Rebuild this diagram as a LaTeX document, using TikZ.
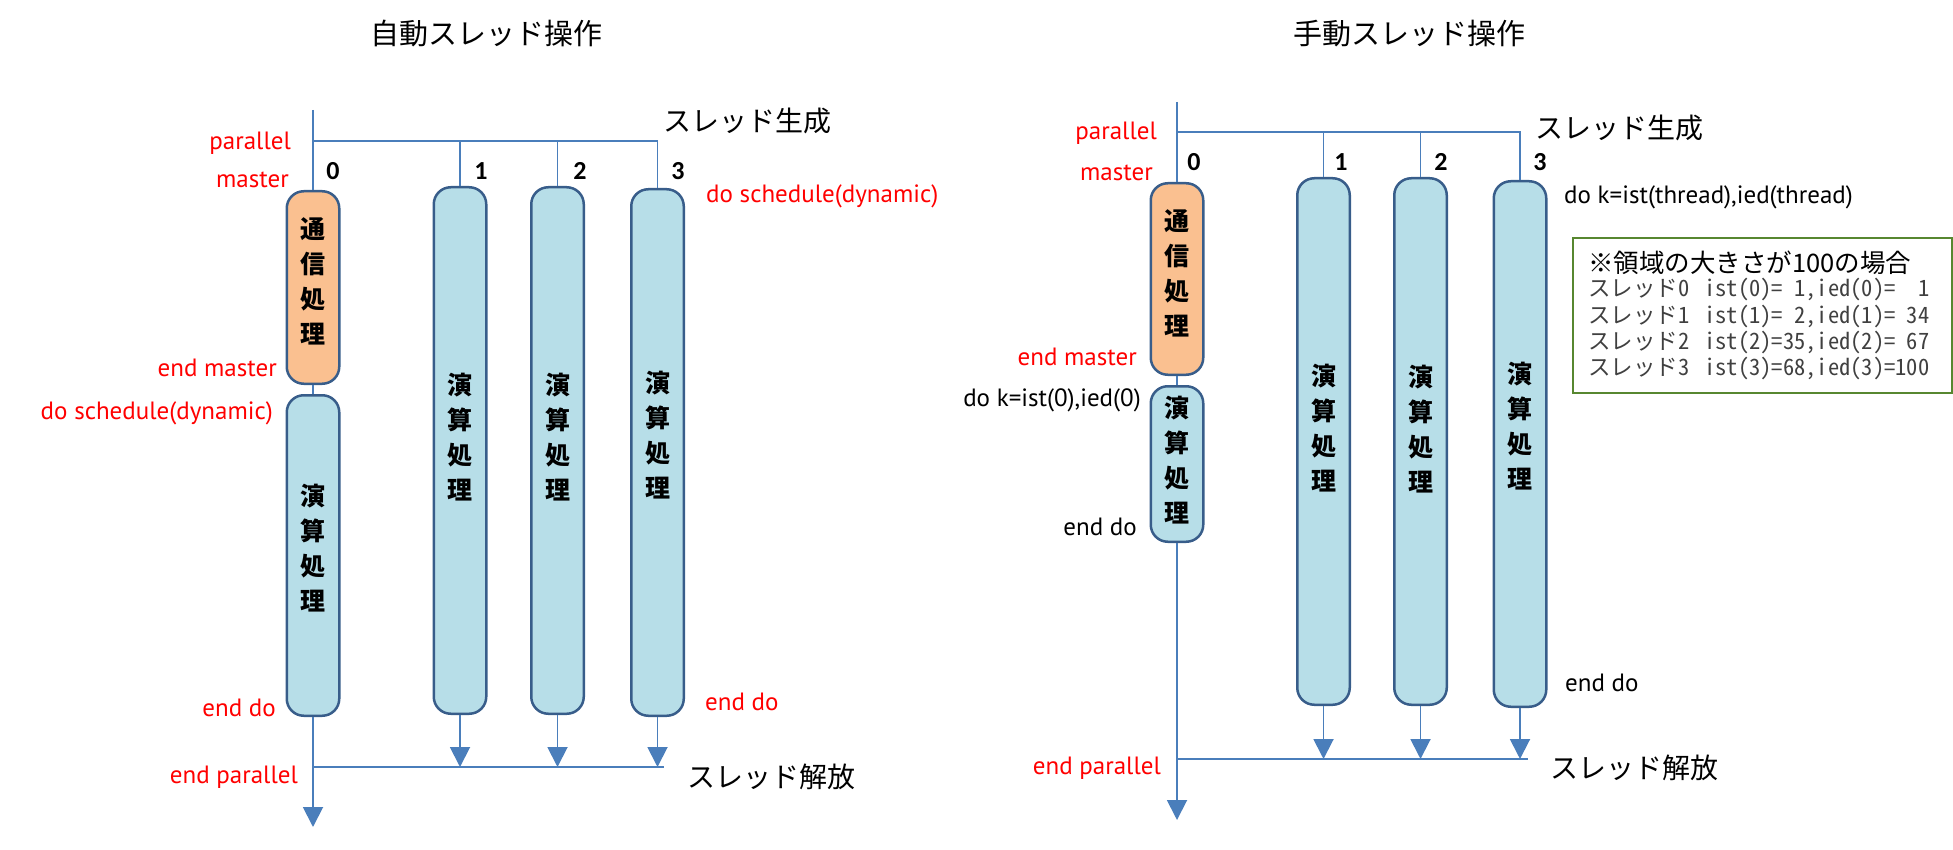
\documentclass[tikz,border=0pt]{standalone}
\usepackage{fontspec}
\setmainfont{PT Sans}
\newfontfamily\jp{Noto Sans CJK JP}
\newfontfamily\jphw[RawFeature=+hwid]{Noto Sans CJK JP}
\newfontfamily\calfont{Carlito}
\usetikzlibrary{arrows.meta}
\definecolor{lineblue}{RGB}{74,126,187}
\definecolor{boxborder}{RGB}{56,93,138}
\definecolor{boxblue}{RGB}{183,222,232}
\definecolor{boxorange}{RGB}{250,192,144}
\definecolor{boxgreen}{RGB}{87,135,48}
\definecolor{graytext}{RGB}{64,64,64}
\tikzset{
  thr/.style={draw=boxborder, line width=2.5pt, rounded corners=17pt, minimum width=52.5pt, inner sep=0pt},
  bluebox/.style={thr, fill=boxblue},
  orangebox/.style={thr, fill=boxorange},
  conn/.style={draw=lineblue, line width=1.9pt},
  arr/.style={conn, -{Triangle[width=20pt,length=20pt]}},
  lbl/.style={font=\fontsize{25}{30}\selectfont, inner sep=0pt},
  redlbl/.style={lbl, text=red},
  num/.style={font=\calfont\bfseries\fontsize{26}{30}\selectfont, inner sep=0pt},
  boxtxt/.style={font=\jp\bfseries\fontsize{25}{35}\selectfont, align=center, inner sep=0pt},
  jplbl/.style={font=\jp\fontsize{28}{32}\selectfont, inner sep=0pt},
  titletxt/.style={font=\jp\fontsize{29}{34}\selectfont, inner sep=0pt},
  notehead/.style={font=\jp\fontsize{25.5}{28}\selectfont, inner sep=0pt, anchor=west},
  noteline/.style={font=\jphw\fontsize{22.5}{26}\selectfont, text=graytext, inner sep=0pt, anchor=west},
}
\begin{document}
\begin{tikzpicture}[x=1pt,y=-1pt]
\useasboundingbox (0,0) rectangle (1953,850);

% ---------------- left diagram ----------------
\node[titletxt] (ltitle) at (486,34) {自動スレッド操作};

\coordinate (Ltop) at (313,110);
\coordinate (Lh0) at (313,141);
\coordinate (Lh3) at (657.5,141);
\coordinate (Lb0) at (313,767);
\coordinate (Lb4) at (664,767);
\coordinate (Lend) at (313,827);

\node[orangebox, minimum height=192.5pt] (LO) at (313,287.5) {};
\node[bluebox, minimum height=320.5pt] (LB) at (313,555.5) {};
\node[bluebox, minimum height=526.5pt] (L1) at (460,450.5) {};
\node[bluebox, minimum height=526.5pt] (L2) at (557.5,450.5) {};
\node[bluebox, minimum height=526.5pt] (L3) at (657.5,452.5) {};

\node[boxtxt] (LOt) at (313,281.5) {通\\信\\処\\理};
\node[boxtxt] (LBt) at (313,548.5) {演\\算\\処\\理};
\node[boxtxt] (L1t) at (460,437.5) {演\\算\\処\\理};
\node[boxtxt] (L2t) at (557.5,437.5) {演\\算\\処\\理};
\node[boxtxt] (L3t) at (657.5,435) {演\\算\\処\\理};

\draw[conn] (Ltop) -- (LO.north);
\draw[conn] (Lh0) -- (Lh3);
\draw[conn] (L1.north |- Lh0) -- (L1.north);
\draw[conn] (L2.north |- Lh0) -- (L2.north);
\draw[conn] (Lh3) -- (L3.north);
\draw[conn] (LO.south) -- (LB.north);
\draw[conn] (Lb0) -- (Lb4);
\draw[arr] (LB.south) -- (Lend);
\draw[arr] (L1.south) -- (L1.south |- Lb0);
\draw[arr] (L2.south) -- (L2.south |- Lb0);
\draw[arr] (L3.south) -- (L3.south |- Lb0);

\node[num] (ln0) at (333,171) {0};
\node[num] (ln1) at (481,171) {1};
\node[num] (ln2) at (580,171) {2};
\node[num] (ln3) at (678,171) {3};

\node[jplbl, anchor=west] (lgen) at (663,121) {スレッド生成};
\node[jplbl, anchor=west] (lrel) at (687,777) {スレッド解放};

\node[redlbl, anchor=east] (lpar) at (291,143) {parallel};
\node[redlbl, anchor=east] (lmas) at (289,180) {master};
\node[redlbl, anchor=east] (lemas) at (277,368) {end master};
\node[redlbl, anchor=east] (ldos) at (273,413) {do schedule(dynamic)};
\node[redlbl, anchor=east] (lendo) at (276,708) {end do};
\node[redlbl, anchor=east] (lepar) at (298,777) {end parallel};
\node[redlbl, anchor=west] (ldos2) at (706,196) {do schedule(dynamic)};
\node[redlbl, anchor=west] (lendo2) at (705,702) {end do};

% ---------------- right diagram ----------------
\node[titletxt] (rtitle) at (1409,34) {手動スレッド操作};

\coordinate (Rtop) at (1177,102);
\coordinate (Rh0) at (1177,132);
\coordinate (Rh3) at (1521,132);
\coordinate (Rb0) at (1177,759);
\coordinate (Rb4) at (1528,759);
\coordinate (Rend) at (1177,820);

\node[orangebox, minimum height=191.5pt] (RO) at (1177,279) {};
\node[bluebox, minimum height=155.5pt] (RB) at (1177,464) {};
\node[bluebox, minimum height=526.5pt] (R1) at (1323.5,441.5) {};
\node[bluebox, minimum height=526.5pt] (R2) at (1420.5,441.5) {};
\node[bluebox, minimum height=525.5pt] (R3) at (1520,444) {};

\node[boxtxt] (ROt) at (1177,273.5) {通\\信\\処\\理};
\node[boxtxt] (RBt) at (1177,460) {演\\算\\処\\理};
\node[boxtxt] (R1t) at (1323.5,428.5) {演\\算\\処\\理};
\node[boxtxt] (R2t) at (1420.5,429.5) {演\\算\\処\\理};
\node[boxtxt] (R3t) at (1520,426.5) {演\\算\\処\\理};

\draw[conn] (Rtop) -- (RO.north);
\draw[conn] (Rh0) -- (Rh3);
\draw[conn] (R1.north |- Rh0) -- (R1.north);
\draw[conn] (R2.north |- Rh0) -- (R2.north);
\draw[conn] (R3.north |- Rh0) -- (R3.north);
\draw[conn] (RO.south) -- (RB.north);
\draw[conn] (Rb0) -- (Rb4);
\draw[arr] (RB.south) -- (Rend);
\draw[arr] (R1.south) -- (R1.south |- Rb0);
\draw[arr] (R2.south) -- (R2.south |- Rb0);
\draw[arr] (R3.south) -- (R3.south |- Rb0);

\node[num] (rn0) at (1194,162) {0};
\node[num] (rn1) at (1341,162) {1};
\node[num] (rn2) at (1441,162) {2};
\node[num] (rn3) at (1540,162) {3};

\node[jplbl, anchor=west] (rgen) at (1535,128) {スレッド生成};
\node[jplbl, anchor=west] (rrel) at (1550,768) {スレッド解放};

\node[redlbl, anchor=east] (rpar) at (1157,133) {parallel};
\node[redlbl, anchor=east] (rmas) at (1153,173) {master};
\node[redlbl, anchor=east] (remas) at (1137,357) {end master};
\node[lbl, anchor=east] (rdok0) at (1141,400) {do k=ist(0),ied(0)};
\node[lbl, anchor=east] (rendo) at (1137,527) {end do};
\node[redlbl, anchor=east] (repar) at (1161,768) {end parallel};
\node[lbl, anchor=west] (rdok) at (1564,197) {do k=ist(thread),ied(thread)};
\node[lbl, anchor=west] (rendo2) at (1565,683) {end do};

\node[draw=boxgreen, line width=2pt, minimum width=379pt, minimum height=155pt, inner sep=0pt, anchor=north west] (note) at (1572,237) {};
\node[notehead] (nh) at (1588,263) {※領域の大きさが100の場合};
\node[noteline] (n0) at (1588,290) {スレッド0\hspace{15pt}ist(0)=\phantom{0}1,ied(0)=\phantom{00}1};
\node[noteline] (n1) at (1588,317) {スレッド1\hspace{15pt}ist(1)=\phantom{0}2,ied(1)=\phantom{0}34};
\node[noteline] (n2) at (1588,343) {スレッド2\hspace{15pt}ist(2)=35,ied(2)=\phantom{0}67};
\node[noteline] (n3) at (1588,369) {スレッド3\hspace{15pt}ist(3)=68,ied(3)=100};
\end{tikzpicture}
\end{document}
